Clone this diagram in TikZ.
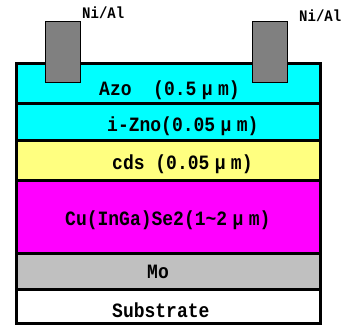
\documentclass[tikz,border=0pt]{standalone}
\usepackage{fontspec}
\setmonofont{Liberation Mono}
\definecolor{azo}{HTML}{00FFFF}
\definecolor{cdsc}{HTML}{FFFF80}
\definecolor{cigs}{HTML}{FF00FF}
\definecolor{moc}{HTML}{C0C0C0}
\definecolor{elec}{HTML}{808080}
\newcommand{\mmu}{\makebox[1.2em]{μ}}
\newcommand{\tallt}[1]{\scalebox{1}[1.13]{#1}}
\tikzset{
  layer/.style={draw=black, line width=3pt},
  electrode/.style={draw=black, line width=1pt, fill=elec},
  ltext/.style={font=\ttfamily\bfseries\fontsize{18}{18}\selectfont, inner sep=0pt, anchor=base west},
  etext/.style={font=\ttfamily\bfseries\fontsize{14}{14}\selectfont, inner sep=0pt, anchor=base west}
}
\begin{document}
\begin{tikzpicture}[x=1pt,y=-1pt]
\useasboundingbox (0,0) rectangle (342,325);
% layers
\filldraw[layer, fill=azo]   (16.5,63.8)  rectangle (320.7,103.8);
\filldraw[layer, fill=azo]   (16.5,103.8) rectangle (320.7,140.5);
\filldraw[layer, fill=cdsc]  (16.5,140.5) rectangle (320.7,180);
\filldraw[layer, fill=cigs]  (16.5,180)   rectangle (320.7,253.7);
\filldraw[layer, fill=moc]   (16.5,253.7) rectangle (320.7,289.2);
\filldraw[layer, fill=white] (16.5,289.2) rectangle (320.7,323.3);
% electrodes
\filldraw[electrode] (45.7,21.7) rectangle (80.7,82.7);
\filldraw[electrode] (252.7,21.7) rectangle (287.3,82.7);
% labels
\node[etext] (ell) at (82,18.3) {\scalebox{1}[1.15]{Ni/Al}};
\node[etext] (elr) at (299,21) {\scalebox{1}[1.15]{Ni/Al}};
\node[ltext] (tazo) at (99,95) {\tallt{Azo\ \ (0.5\mmu m)}};
\node[ltext] (tizno) at (107,131) {\tallt{i-Zno(0.05\mmu m)}};
\node[ltext] (tcds) at (112,169) {\tallt{cds (0.05\mmu m)}};
\node[ltext] (tcigs) at (65,225.7) {\tallt{Cu(InGa)Se2(1\textasciitilde 2\mmu m)}};
\node[ltext] (tmo) at (147,278.3) {\tallt{Mo}};
\node[ltext] (tsub) at (112,317.7) {\tallt{Substrate}};
\end{tikzpicture}
\end{document}
